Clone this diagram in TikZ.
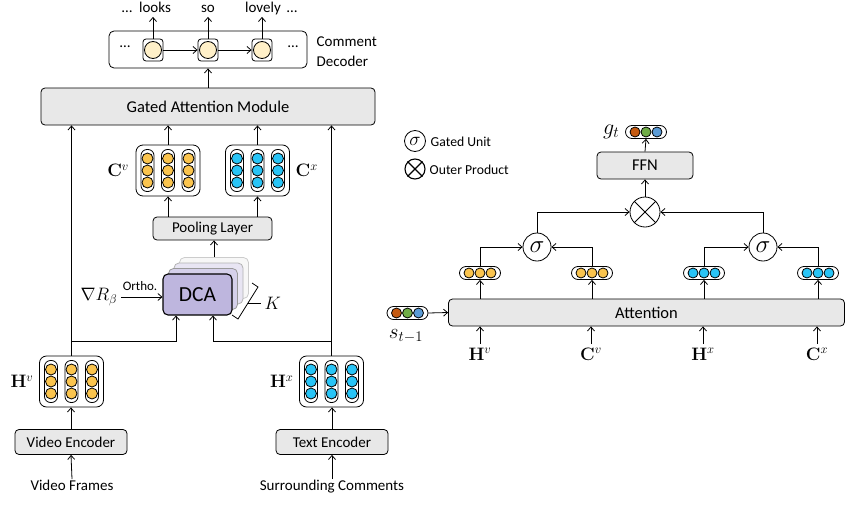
\RequirePackage{fix-cm}
\documentclass[tikz,border=0pt]{standalone}
\usepackage{amsmath}
\usepackage[no-math]{fontspec}
\setmainfont{Carlito}
\usepackage{tikz}
\usetikzlibrary{arrows.meta,positioning,calc}
\tikzset{>={Straight Barb[length=4pt,width=7pt]}}

\definecolor{boxgray}{RGB}{232,232,232}
\definecolor{vidyellow}{RGB}{250,196,78}
\definecolor{txtcyan}{RGB}{40,196,246}
\definecolor{decyellow}{RGB}{255,240,200}
\definecolor{dcapurple}{RGB}{190,182,222}
\definecolor{gorange}{RGB}{197,90,17}
\definecolor{ggreen}{RGB}{112,173,71}
\definecolor{gblue}{RGB}{91,155,213}

% three columns of three cells inside a feature box
\newcommand{\colcells}[2]{%
  \foreach \dx in {-20.5,0,20.5}{%
    \draw[rounded corners=6pt] ($(#1)+(\dx-6.5,-21)$) rectangle ($(#1)+(\dx+6.5,21)$);
    \foreach \dy in {-12,0,12}
      \draw[fill=#2] ($(#1)+(\dx,\dy)$) circle (5.5pt);
  }}
% one row of three cells
\newcommand{\rowcells}[4]{%
  \draw[fill=#2] ($(#1)+(-11,0)$) circle (5pt);
  \draw[fill=#3] (#1) circle (5pt);
  \draw[fill=#4] ($(#1)+(11,0)$) circle (5pt);}

\begin{document}
\begin{tikzpicture}[x=1pt, y=-1pt, line width=0.8pt,
  every node/.style={font=\fontsize{15}{18}\selectfont},
  box/.style={draw, rounded corners=4pt, fill=boxgray, inner sep=0pt},
  featbox/.style={draw, rounded corners=7pt, minimum width=64pt, minimum height=51pt},
  rowvec/.style={draw, rounded corners=6.5pt, minimum width=41pt, minimum height=13pt},
  cellbox/.style={draw, rounded corners=3pt, minimum width=20pt, minimum height=22pt},
  gate/.style={draw, circle, minimum size=28pt, inner sep=0pt, font=\fontsize{25}{27}\selectfont},
  word/.style={text height=10pt, text depth=3pt, inner sep=1pt},
  lbl/.style={font=\fontsize{18}{20}\selectfont}]
  \useasboundingbox (0,0) rectangle (846,506);

  % comment decoder
  \node[draw, rounded corners=5pt, minimum width=198pt, minimum height=37pt] (dec) at (208,49.5) {};
  \node[cellbox] (c1) at (153,50) {};
  \node[cellbox] (c2) at (208,50) {};
  \node[cellbox] (c3) at (262,50) {};
  \foreach \c in {c1,c2,c3} \draw[fill=decyellow] (\c) circle (8.5pt);
  \node (dl) at (125,47) {\dots};
  \node (dr) at (293,47) {\dots};
  \node[word] (w1) at (155,9) {looks};
  \node[word] (w2) at (208,9) {so};
  \node[word] (w3) at (263,9) {lovely};
  \node[word] (wl) at (127,9) {\dots};
  \node[word] (wr) at (292,9) {\dots};
  \node[align=left, anchor=west, font=\fontsize{15}{20}\selectfont] (declbl) at (313,52) {Comment\\Decoder};
  \draw[->] (c1.east) -- (c2.west);
  \draw[->] (c2.east) -- (c3.west);
  \foreach \c/\w in {c1/w1,c2/w2,c3/w3}
    \draw[->] (\c.north) -- (\c.north |- \w.south);

  % gated attention module
  \node[box, minimum width=334pt, minimum height=37pt, font=\fontsize{16.5}{20}\selectfont] (gam) at (208,106.5) {Gated Attention Module};
  \draw[->] (gam.north) -- (dec.south);

  % pooled features
  \node[featbox] (Cv) at (168,170.5) {};
  \node[featbox] (Cx) at (257.5,170.5) {};
  \colcells{Cv}{vidyellow}
  \colcells{Cx}{txtcyan}
  \node[lbl, left=3pt of Cv] (Cvl) {$\mathbf{C}^{v}$};
  \node[lbl, right=2pt of Cx] (Cxl) {$\mathbf{C}^{x}$};
  \draw[->] (Cv.north) -- (Cv.north |- gam.south);
  \draw[->] (Cx.north) -- (Cx.north |- gam.south);

  \node[box, minimum width=119pt, minimum height=23pt] (pool) at (212.5,228.5) {Pooling Layer};
  \draw[->] (pool.north -| Cv) -- (Cv.south);
  \draw[->] (pool.north -| Cx) -- (Cx.south);

  % DCA stack
  \node[draw=gray!40, fill=gray!6, rounded corners=5pt, minimum width=69pt, minimum height=41pt] (dca3) at (214,278) {};
  \node[draw=gray!60, fill=dcapurple!35, rounded corners=5pt, minimum width=69pt, minimum height=41pt] (dca2) at (208.5,283.5) {};
  \node[draw=gray!80, fill=dcapurple!65, rounded corners=5pt, minimum width=69pt, minimum height=41pt] (dca1) at (203,289) {};
  \node[draw, line width=1.1pt, fill=dcapurple, rounded corners=5pt, minimum width=69pt, minimum height=41pt, font=\fontsize{21.5}{24}\selectfont] (dca) at (197.5,294.5) {DCA};
  \draw[->] (dca3.north) -- (dca3.north |- pool.south);
  \draw (232,315) -- (238,319) -- (258,287) -- (252,283);
  \draw (248,303) -- (261,303);
  \node[lbl, anchor=west] (K) at (261,303) {$K$};

  \node[lbl] (grad) at (99,297) {$\nabla R_{\beta}$};
  \draw[->] (grad.east) -- (grad.east -| dca.west);
  \node[font=\fontsize{13}{15}\selectfont] (ortho) at (140,286) {Ortho.};

  % encoders
  \node[featbox] (Hv) at (71.5,381.5) {};
  \node[featbox] (Hx) at (331.5,381.5) {};
  \colcells{Hv}{vidyellow}
  \colcells{Hx}{txtcyan}
  \node[lbl, left=2pt of Hv] (Hvl) {$\mathbf{H}^{v}$};
  \node[lbl, left=2pt of Hx] (Hxl) {$\mathbf{H}^{x}$};

  \node[box, minimum width=112pt, minimum height=25pt] (venc) at (71,442) {Video Encoder};
  \node[box, minimum width=112pt, minimum height=25pt] (tenc) at (332,442) {Text Encoder};
  \node[word] (vin) at (72,487) {Video Frames};
  \node[word] (tin) at (332,487) {Surrounding Comments};
  \draw[->] (vin.north) -- (venc.south);
  \draw[->] (tin.north) -- (tenc.south);
  \draw[->] (venc.north) -- (venc.north |- Hv.south);
  \draw[->] (tenc.north) -- (tenc.north |- Hx.south);

  \draw[->] (Hv.north) -- (Hv.north |- gam.south);
  \draw[->] (Hx.north) -- (Hx.north |- gam.south);
  \coordinate (bv) at (71.5,341);
  \coordinate (bx) at (331.5,341);
  \draw[->] (bv) -| ($(dca.south)+(-21.5,0)$);
  \draw[->] (bx) -| ($(dca.south)+(15.5,0)$);

  % legend
  \node[gate, minimum size=21pt, font=\fontsize{19}{21}\selectfont] (lsig) at (415,141) {$\sigma$};
  \node[anchor=west, font=\fontsize{13.7}{16}\selectfont] (lsigt) at (427,142) {Gated Unit};
  \node[draw, circle, minimum size=20pt, line width=1.1pt] (lop) at (415,169) {};
  \draw[line width=1.1pt] (lop.north west) -- (lop.south east) (lop.north east) -- (lop.south west);
  \node[anchor=west, font=\fontsize{13.7}{16}\selectfont] (lopt) at (426,170) {Outer Product};

  % gated fusion
  \node[rowvec] (gv) at (646,132) {};
  \rowcells{gv}{gorange}{ggreen}{gblue}
  \node[lbl, left=2pt of gv, font=\fontsize{22}{24}\selectfont] (gvl) {$g_t$};
  \node[box, minimum width=96pt, minimum height=27pt, font=\fontsize{16.5}{20}\selectfont] (ffn) at (645,165.5) {FFN};
  \node[draw, circle, minimum size=30pt] (op) at (645,212) {};
  \draw (op.north west) -- (op.south east) (op.north east) -- (op.south west);
  \draw[->] (ffn.north) -- (gv.south);
  \draw[->] (op.north) -- (ffn.south);

  \node[gate] (s1) at (537,247) {$\sigma$};
  \node[gate] (s2) at (763,247) {$\sigma$};
  \draw[->] (s1.north) |- (op.west);
  \draw[->] (s2.north) |- (op.east);

  \node[rowvec] (a1) at (480,273) {};
  \node[rowvec] (a2) at (592,273) {};
  \node[rowvec] (a3) at (704,273) {};
  \node[rowvec] (a4) at (818,273) {};
  \rowcells{a1}{vidyellow}{vidyellow}{vidyellow}
  \rowcells{a2}{vidyellow}{vidyellow}{vidyellow}
  \rowcells{a3}{txtcyan}{txtcyan}{txtcyan}
  \rowcells{a4}{txtcyan}{txtcyan}{txtcyan}
  \draw[->] (a1.north) |- (s1.west);
  \draw[->] (a2.north) |- (s1.east);
  \draw[->] (a3.north) |- (s2.west);
  \draw[->] (a4.north) |- (s2.east);

  \node[box, minimum width=396pt, minimum height=27pt, font=\fontsize{16.5}{20}\selectfont] (att) at (646.5,312.5) {Attention};
  \foreach \a in {a1,a2,a3,a4}
    \draw[->] (att.north -| \a) -- (\a.south);

  \node[rowvec] (sv) at (407.5,313) {};
  \rowcells{sv}{gorange}{ggreen}{gblue}
  \node[lbl, font=\fontsize{21}{23}\selectfont] (svl) at (406,336) {$s_{t-1}$};
  \draw[->] (sv.east) -- (att.west);

  \node[lbl] (iHv) at (480,354) {$\mathbf{H}^{v}$};
  \node[lbl] (iCv) at (591,354) {$\mathbf{C}^{v}$};
  \node[lbl] (iHx) at (703,354) {$\mathbf{H}^{x}$};
  \node[lbl] (iCx) at (817,354) {$\mathbf{C}^{x}$};
  \foreach \i in {iHv,iCv,iHx,iCx}
    \draw[->] (\i.north) -- (\i.north |- att.south);
\end{tikzpicture}
\end{document}
